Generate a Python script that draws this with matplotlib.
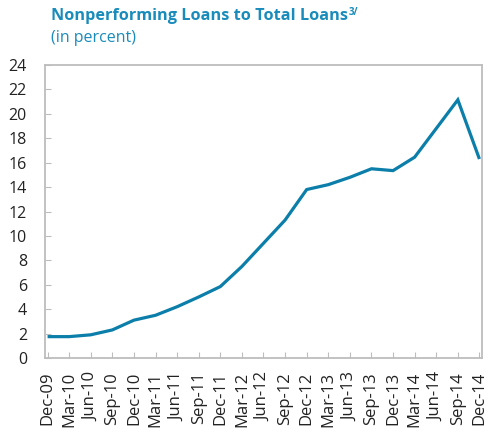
import matplotlib
matplotlib.use('Agg')
import matplotlib.pyplot as plt

quarters = ['Dec-09', 'Mar-10', 'Jun-10', 'Sep-10', 'Dec-10', 'Mar-11', 'Jun-11',
            'Sep-11', 'Dec-11', 'Mar-12', 'Jun-12', 'Sep-12', 'Dec-12', 'Mar-13',
            'Jun-13', 'Sep-13', 'Dec-13', 'Mar-14', 'Jun-14', 'Sep-14', 'Dec-14']
npl_ratio = [1.75, 1.75, 1.9, 2.3, 3.1, 3.5, 4.2, 5.0, 5.85, 7.5, 9.4, 11.3,
             13.8, 14.2, 14.8, 15.5, 15.35, 16.45, 18.8, 21.15, 16.3]
yticks = list(range(0, 25, 2))

line_blue = '#0B7EA9'
title_blue = '#1A8CBB'
spine_grey = '#BDBDBD'

plt.rcParams['font.family'] = ['Open Sans', 'DejaVu Sans']

fig = plt.figure(figsize=(4.9, 4.32), dpi=100)
ax = fig.add_axes([0.0918, 0.1713, 0.8919, 0.6782])

x = list(range(len(quarters)))
ax.plot(x, npl_ratio, color=line_blue, linewidth=2.3, solid_capstyle='butt',
        solid_joinstyle='miter')

ax.set_xlim(-0.12, len(quarters) - 1 + 0.12)
ax.set_ylim(0, 24)
ax.set_yticks(yticks)
ax.set_xticks(x)
ax.set_xticklabels(quarters, rotation=90, fontsize=12, color='#222222')
ax.tick_params(axis='y', labelsize=11.5, labelcolor='#222222', direction='in',
               length=4, color=spine_grey, pad=13)
ax.tick_params(axis='x', direction='in', length=4, color=spine_grey, pad=10)
for s in ax.spines.values():
    s.set_color(spine_grey)
    s.set_linewidth(1.3)

# title line with a small raised footnote mark after it
title = fig.text(0.104, 0.953, 'Nonperforming Loans to Total Loans', fontsize=11.7,
                 fontweight='bold', color=title_blue, va='baseline')
fig.canvas.draw()
bb = title.get_window_extent()
fig.text(bb.x1 / fig.bbox.width + 0.002, 0.966, '3/', fontsize=7,
         fontweight='bold', color=title_blue, va='baseline')
fig.text(0.104, 0.903, '(in percent)', fontsize=11.5, color=title_blue, va='baseline')

fig.savefig('out.png', dpi=100)
